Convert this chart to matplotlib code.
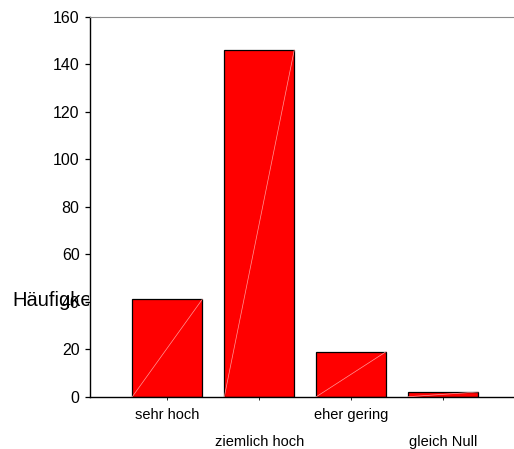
import numpy as np
import matplotlib; matplotlib.use("Agg")
import matplotlib.pyplot as plt
from matplotlib.transforms import Bbox, TransformedBbox

categories = ["sehr hoch", "ziemlich hoch", "eher gering", "gleich Null"]
counts = [41, 146, 19, 2]
yticks = [0, 20, 40, 60, 80, 100, 120, 140, 160]

plt.rcParams.update({"font.family": ["Liberation Sans", "DejaVu Sans"]})

fig = plt.figure(figsize=(5.14, 4.49), dpi=100)
ax = fig.add_axes([90/514, 1 - 396.7/449, 424/514, 380/449])

x = np.arange(len(categories))
w = 0.76
bars = ax.bar(x, counts, width=w, color="#ff0000", edgecolor="black",
              linewidth=0.9, zorder=2)
# faint diagonal seam across each bar
for b in bars:
    x0, h = b.get_x(), b.get_height()
    ax.plot([x0, x0 + b.get_width()], [0, h], color="#ff9a9a", lw=0.5,
            zorder=3)

ax.set_xlim(-77.3/92, (424 - 77.3)/92)
ax.set_ylim(0, 160)
ax.set_yticks(yticks)
ax.set_xticks(x)
ax.set_xticklabels(categories)
for i, t in enumerate(ax.xaxis.get_major_ticks()):
    t.set_pad(6 + (i % 2) * 19.5)

ax.tick_params(axis="y", direction="out", length=3.5, width=0.9,
               labelsize=11.5, pad=4, colors="black")
ax.tick_params(axis="x", direction="out", length=2, width=0.6,
               labelsize=10.5, colors="black")
ax.spines["right"].set_visible(False)
ax.spines["top"].set_color("#8c8c8c")
ax.spines["top"].set_linewidth(0.8)
ax.spines["left"].set_linewidth(1.0)
ax.spines["bottom"].set_linewidth(1.0)

# axis title runs into the plot frame and gets cut off there
lab = fig.text(12/514, 1 - 301/449, "Häufigkeit", fontsize=14.5,
               ha="left", va="center", zorder=0)
lab.set_clip_box(TransformedBbox(Bbox([[0, 0], [89/514, 1]]), fig.transFigure))
lab.set_clip_on(True)

fig.savefig("out.png", dpi=100)
